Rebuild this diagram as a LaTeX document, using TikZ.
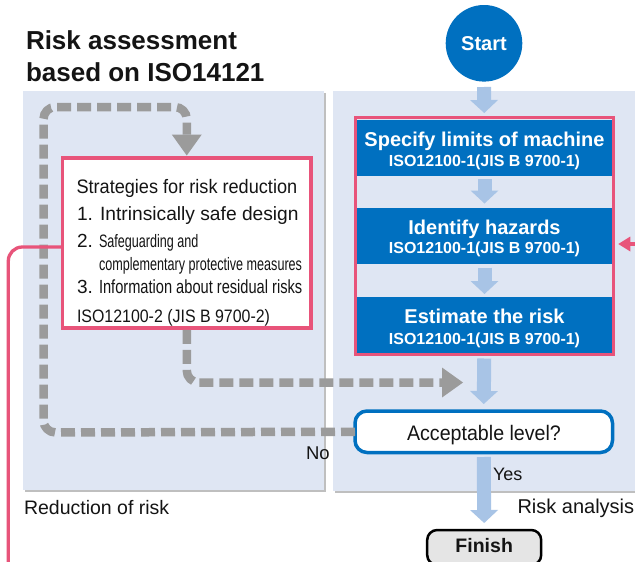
\documentclass[tikz,border=0pt]{standalone}
\usepackage{fontspec}
\setmainfont{Liberation Sans}
\usepackage{graphicx}
\usetikzlibrary{arrows.meta,shadows,calc}
\definecolor{panelc}{RGB}{223,230,243}
\definecolor{lblue}{RGB}{168,196,230}
\definecolor{bluec}{RGB}{0,112,192}
\definecolor{pinkc}{RGB}{232,84,122}
\definecolor{grayc}{RGB}{155,155,155}
\definecolor{finishc}{RGB}{229,229,229}
\definecolor{txtc}{RGB}{20,20,20}
\newcommand{\fsz}[1]{\fontsize{#1}{#1}\selectfont}
\newcommand{\nrw}[2]{\scalebox{#1}[1]{#2}}
\begin{document}
\begin{tikzpicture}[x=1pt,y=-1pt,
  every node/.style={inner sep=0pt,outer sep=0pt,text=txtc},
  panel/.style={rectangle,fill=panelc,draw=none,
    drop shadow={shadow xshift=2pt,shadow yshift=-2pt,opacity=0.25,fill=black}},
  bluebox/.style={rectangle,fill=bluec,minimum width=255,minimum height=56},
  wtitle/.style={text=white,font=\fsz{20}\bfseries,anchor=base},
  wsub/.style={text=white,font=\fsz{16}\bfseries,anchor=base},
  stxt/.style={anchor=base west},
  lbl/.style={anchor=base west,font=\fsz{18.5}},
  lbarrow/.style={draw=lblue,line width=14pt,-{Triangle[length=13pt,width=28pt,line width=0pt]}},
  graydash/.style={draw=grayc,line width=8.5pt,dash pattern=on 14pt off 6pt,rounded corners=12pt,
    -{Triangle[length=21pt,width=30pt,line width=0pt]}},
  pinkline/.style={draw=pinkc,line width=3.3pt}
]
\useasboundingbox (0,0) rectangle (635,562);
\fill[white] (0,0) rectangle (635,562);

% panels
\node[panel,minimum width=301,minimum height=399] (leftpanel) at (173.5,290.5) {};
\node[panel,minimum width=307,minimum height=400] (rightpanel) at (486.5,291) {};

% title
\node[anchor=base west,font=\fsz{26}\bfseries] (title1) at (26,49) {Risk assessment};
\node[anchor=base west,font=\fsz{26}\bfseries] (title2) at (26,81) {based on ISO14121};

% risk analysis boxes
\node[rectangle,draw=pinkc,line width=3pt,minimum width=257.5,minimum height=237] (redbox) at (484.25,236) {};
\node[bluebox] (box1) at (484.5,147.5) {};
\node[bluebox] (box2) at (484.5,235.5) {};
\node[bluebox] (box3) at (484.5,325) {};
\node[wtitle] (b1t) at (484.5,146) {Specify limits of machine};
\node[wsub] (b1s) at (484.5,166) {ISO12100-1(JIS B 9700-1)};
\node[wtitle] (b2t) at (484.5,234) {Identify hazards};
\node[wsub] (b2s) at (484.5,253) {ISO12100-1(JIS B 9700-1)};
\node[wtitle] (b3t) at (484.5,323) {Estimate the risk};
\node[wsub] (b3s) at (484.5,344) {ISO12100-1(JIS B 9700-1)};

% start
\node[circle,fill=bluec,minimum size=76.6,text=white,font=\fsz{20}\bfseries] (start) at (484,43.3) {Start};

% strategies box
\node[rectangle,draw=pinkc,fill=white,line width=3.5pt,minimum width=248.5,minimum height=170] (strat) at (186.75,243) {};
\node[stxt,font=\fsz{19.5}] (s0) at (76.5,193) {\nrw{0.93}{Strategies for risk reduction}};
\node[stxt,font=\fsz{19.2}] (s1) at (77,220) {1. Intrinsically safe design};
\node[stxt,font=\fsz{19}] (s2n) at (77,247) {2.};
\node[stxt,font=\fsz{18}] (s2a) at (99,247) {\nrw{0.70}{Safeguarding and}};
\node[stxt,font=\fsz{18}] (s2b) at (99,270) {\nrw{0.70}{complementary protective measures}};
\node[stxt,font=\fsz{19}] (s3n) at (77,293) {3.};
\node[stxt,font=\fsz{19}] (s3a) at (99,293) {\nrw{0.77}{Information about residual risks}};
\node[stxt,font=\fsz{18}] (s4) at (77,322) {\nrw{0.885}{ISO12100-2 (JIS B 9700-2)}};

% acceptable level
\node[rectangle,rounded corners=12pt,draw=bluec,fill=white,line width=3.5pt,minimum width=257.5,minimum height=41.5] (accept) at (483.75,431.75) {};
\node[anchor=base,font=\fsz{21}] (accepttxt) at (484,440) {\nrw{0.935}{Acceptable level?}};

% finish
\node[rectangle,rounded corners=10pt,draw=black,fill=finishc,line width=2.5pt,minimum width=114,minimum height=35] (finish) at (484.2,547.5) {};
\node[anchor=base,font=\fsz{19.5}\bfseries] (finishtxt) at (484.2,552) {Finish};

% labels
\node[lbl,font=\fsz{18}] (yes) at (493,480) {Yes};
\node[lbl] (no) at (306,459) {No};
\node[lbl,font=\fsz{20}] (riskan) at (517.5,513) {Risk analysis};
\node[lbl,font=\fsz{19.5}] (reduct) at (24,514) {Reduction of risk};

% light blue flow arrows
\draw[lbarrow] ([yshift=-5.4pt]start.south) -- ([yshift=4.5pt]redbox.north);
\draw[lbarrow] ([yshift=-3.5pt]box1.south) -- ([yshift=4pt]box2.north);
\draw[lbarrow] ([yshift=-4pt]box2.south) -- ([yshift=3pt]box3.north);
\draw[lbarrow] ([yshift=-4pt]redbox.south) -- ([yshift=7pt]accept.north);
\draw[lbarrow] ([yshift=-4.5pt]accept.south) -- ([yshift=7pt]finish.north);

% gray dashed loops
\coordinate (lc1) at (43.5,432.5);
\coordinate (lc2) at (43.5,107);
\coordinate (lc3) at (186.75,107);
\draw[graydash] (accept.west) -- (lc1) -- (lc2) -- (lc3) -- ([yshift=2.5pt]strat.north);
\coordinate (joinpt) at (463,382.5);
\draw[graydash] ([yshift=-1.75pt]strat.south) |- (joinpt);

% pink lines
\coordinate (pinkend) at (8.3,570);
\draw[pinkline,rounded corners=14pt] ([yshift=-4pt]strat.west) -| (pinkend);
\coordinate (pinksrc) at (640,244);
\draw[pinkline,-{Triangle[length=12pt,width=15pt,line width=0pt]}] (pinksrc) -- ($(pinksrc -| redbox.east)+(5.3,0)$);
\end{tikzpicture}
\end{document}
